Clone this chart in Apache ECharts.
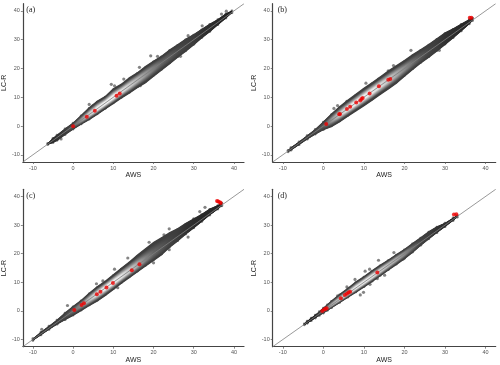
<!DOCTYPE html>
<html>
<head>
<meta charset="utf-8">
<style>
    html, body { margin: 0; padding: 0; background: #fff; }
    #main { width: 500px; height: 365px; filter: blur(0.4px); }
</style>
<script src="https://cdn.jsdelivr.net/npm/echarts@6/dist/echarts.min.js"></script>
</head>
<body>
<div id="main"></div>
<script>
var tickValues = [-10, 0, 10, 20, 30, 40];
var panelNames = ['(a)', '(b)', '(c)', '(d)'];
var identityEnds = [-12.5, 42.5];

// band: AWS knot, top and bottom of the cloud relative to the 1:1 line, grey at the middle
var bandA_x = [-6.3, -5, -4, -2, 0, 2, 4, 6, 8, 10, 12, 14, 16, 18, 20, 22, 24, 26, 28, 30, 32, 34, 36, 38, 39.5];
var bandA_up = [0.3, 0.9, 1.0, 1.2, 1.2, 1.9, 2.6, 2.9, 2.5, 3.2, 2.8, 3.0, 2.8, 2.9, 2.8, 2.5, 2.7, 2.5, 2.4, 2.0, 1.8, 1.6, 1.2, 1.2, 0.6];
var bandA_lo = [-0.2, -0.9, -1.2, -1.2, -1.3, -1.6, -2.0, -2.2, -2.3, -2.4, -2.5, -2.8, -2.9, -3.2, -3.0, -2.8, -2.6, -2.4, -2.3, -2.0, -1.6, -1.4, -1.0, -0.6, -0.2];
var bandA_core = [40, 45, 50, 60, 90, 150, 205, 235, 240, 240, 225, 205, 180, 150, 125, 100, 90, 75, 65, 60, 50, 45, 40, 35, 30];

var bandB_x = [-8.7, -8, -6, -4, -2, 0, 2, 4, 6, 8, 10, 12, 14, 16, 18, 20, 22, 24, 26, 28, 30, 32, 34, 36, 36.8];
var bandB_up = [0.3, 0.6, 0.6, 0.8, 1.0, 1.7, 2.4, 3.0, 3.2, 3.3, 3.4, 3.3, 3.3, 3.4, 3.2, 3.0, 3.0, 2.8, 2.6, 2.6, 2.6, 2.0, 1.6, 1.2, 0.8];
var bandB_lo = [-0.3, -0.5, -0.6, -0.7, -1.0, -1.5, -2.4, -2.8, -2.9, -3.0, -3.2, -3.3, -3.3, -3.4, -3.4, -3.0, -2.6, -2.4, -2.4, -2.2, -1.9, -1.6, -1.2, -0.6, -0.2];
var bandB_core = [50, 50, 50, 60, 70, 90, 150, 200, 230, 240, 240, 235, 220, 200, 170, 140, 110, 85, 70, 60, 50, 45, 40, 40, 40];

var bandC_x = [-10, -8, -6, -4, -2, 0, 2, 4, 6, 8, 10, 12, 14, 16, 18, 20, 22, 24, 26, 28, 30, 32, 34, 36, 37];
var bandC_up = [0.4, 0.7, 0.8, 1.0, 1.5, 1.8, 1.9, 2.4, 2.7, 2.6, 2.9, 3.2, 3.4, 3.8, 4.0, 4.2, 3.8, 3.6, 3.0, 2.8, 2.4, 2.0, 1.8, 1.0, 0.8];
var bandC_lo = [-0.4, -0.5, -0.6, -0.8, -1.3, -1.8, -2.1, -2.4, -2.8, -2.9, -2.8, -2.6, -2.6, -2.6, -2.6, -2.6, -2.6, -2.0, -1.8, -1.4, -1.2, -0.9, -0.6, -0.5, -0.3];
var bandC_core = [50, 50, 55, 60, 75, 100, 140, 190, 225, 240, 240, 225, 200, 170, 130, 100, 85, 70, 60, 50, 45, 40, 40, 35, 35];

var bandD_x = [-4.7, -4, -3, -2, -1, 0, 1, 2, 4, 6, 8, 10, 12, 14, 16, 18, 20, 22, 24, 26, 28, 30, 32, 33];
var bandD_up = [0.2, 0.5, 0.6, 0.7, 0.9, 1.2, 1.4, 1.7, 2.0, 2.1, 2.4, 2.2, 2.3, 2.2, 2.0, 1.9, 1.7, 1.8, 1.8, 1.9, 1.6, 0.8, 0.6, 0.4];
var bandD_lo = [-0.2, -0.4, -0.5, -0.6, -0.7, -0.9, -1.0, -1.1, -1.3, -1.5, -1.7, -1.9, -2.0, -2.0, -2.0, -2.0, -2.0, -1.8, -1.3, -1.0, -0.8, -0.7, -0.5, -0.3];
var bandD_core = [30, 30, 30, 40, 60, 100, 140, 170, 200, 220, 235, 235, 230, 210, 190, 170, 140, 100, 70, 60, 50, 45, 40, 40];

// loose points outside the cloud
var strayA = [[36.9, 38.9], [38.1, 39.9], [32.1, 34.8], [28.6, 31.4], [19.3, 24.4], [21, 24.2], [12.6, 16.3], [9.5, 14.5], [10.3, 14], [4, 7.5], [4.9, 7], [16.5, 20.4], [16.7, 14], [-3, -4.5], [26.7, 24.2]];
var strayB = [[21.6, 26.3], [28.6, 26.3], [10.5, 14.9], [16, 19.2], [2.6, 6.1], [3.5, 7.1], [5.8, 8.6], [13.6, 16.3], [17.3, 21], [30.5, 30.9], [31.3, 32.3]];
var strayC = [[32.8, 36.2], [31.5, 34.7], [30, 32.2], [23.9, 28.7], [18.9, 24], [10.3, 14.6], [5.8, 9.5], [7.4, 10.5], [11.1, 8.1], [20, 16.8], [23.9, 21.4], [28.6, 25.8], [-1.4, 1.9], [-7.8, -6.4], [10.7, 8.8], [13.6, 18.5], [22.6, 26.6]];
var strayD = [[13.6, 17.7], [15.1, 12.5], [13.3, 11.3], [10.3, 13.9], [11.4, 14.6], [5.8, 8.4], [7.8, 11], [17.4, 20.4], [19.6, 18.1], [3.5, 5.3], [9.1, 5.6], [9.9, 6.5], [11.5, 9.3], [1.6, 2.4]];

// red highlighted points
var redA = [[0, -0.1], [3.4, 3.2], [5.4, 5.3], [10.8, 10.5], [11.6, 11.3]];
var redB = [[0.7, 0.7], [3.9, 4.1], [4.1, 4.2], [5.8, 5.9], [6.6, 6.7], [8.1, 8.2], [9.1, 8.9], [9.4, 9.4], [9.7, 9.7], [11.4, 11.3], [13.7, 13.8], [16, 16.1], [16.5, 16.3], [36.1, 37.6], [36.5, 37.6]];
var redC = [[0.3, 0.3], [2.1, 2.1], [2.7, 2.7], [5.9, 5.8], [6.8, 6.7], [8.3, 8.2], [9.9, 9.8], [14.6, 14.2], [16.5, 16.3], [35.8, 38.4], [36.1, 38.2], [36.5, 38], [36.7, 37.7]];
var redD = [[-0.3, 0], [0.2, 0.5], [0.5, 0.7], [0.8, 0.9], [4.3, 4.4], [5.3, 5.6], [5.8, 6], [6.2, 6.4], [6.6, 6.7], [13.3, 13.4], [32.2, 33.7], [32.8, 33.8]];

var bandX = [bandA_x, bandB_x, bandC_x, bandD_x];
var bandUp = [bandA_up, bandB_up, bandC_up, bandD_up];
var bandLo = [bandA_lo, bandB_lo, bandC_lo, bandD_lo];
var bandCore = [bandA_core, bandB_core, bandC_core, bandD_core];
var strays = [strayA, strayB, strayC, strayD];
var reds = [redA, redB, redC, redD];

var frames = [
    { left: 21.3, top: 3.7, width: 222.7, height: 158.3 },
    { left: 272.7, top: 3.7, width: 223, height: 158.3 },
    { left: 21.3, top: 189.3, width: 222.7, height: 157.4 },
    { left: 272.7, top: 189.3, width: 223, height: 157.4 }
];

var levels = 14;

function grey(v) {
    var g = Math.round(v);
    return 'rgb(' + g + ',' + g + ',' + g + ')';
}

// grey of a nested level: dark shell near the rim, then up to the knot's middle value
function levelGrey(core, t) {
    var edge = Math.min(core, 62);
    if (t < 0.2) {
        return edge;
    }
    return edge + (core - edge) * Math.min((t - 0.2) / 0.55, 1);
}

function levelRows() {
    var rows = [];
    for (var k = 0; k < levels; k++) {
        rows.push([k, k]);
    }
    return rows;
}

function rimPoints(p) {
    var pts = [];
    for (var i = 0; i < bandX[p].length; i++) {
        pts.push([bandX[p][i], bandX[p][i] + 0.8 * bandUp[p][i]]);
        pts.push([bandX[p][i], bandX[p][i] + 0.8 * bandLo[p][i]]);
    }
    return pts;
}

function makeRenderBand(p) {
    return function(params, api) {
        var k = api.value(0);
        var f = 1 - k / levels;
        var xs = bandX[p], n = xs.length;
        var top = [], bottom = [], stops = [];
        for (var i = 0; i < n; i++) {
            top.push(api.coord([xs[i], xs[i] + f * bandUp[p][i]]));
            bottom.unshift(api.coord([xs[i], xs[i] + f * bandLo[p][i]]));
            stops.push({ offset: (xs[i] - xs[0]) / (xs[n - 1] - xs[0]), color: grey(levelGrey(bandCore[p][i], k / levels)) });
        }
        var fill = new echarts.graphic.LinearGradient(top[0][0], 0, top[n - 1][0], 0, stops, true);
        return {
            type: 'polygon',
            shape: { points: top.concat(bottom) },
            style: { fill: fill }
        };
    };
}

var grids = [], xAxes = [], yAxes = [], series = [], titles = [];

for (var p = 0; p < 4; p++) {
    var fr = frames[p];
    grids.push({ left: fr.left, top: fr.top, width: fr.width, height: fr.height });

    xAxes.push({
        type: 'value', gridIndex: p, min: -12.5, max: 42.5,
        name: 'AWS', nameLocation: 'middle', nameGap: 8,
        nameTextStyle: { fontFamily: 'Liberation Sans', fontSize: 7, color: '#222' },
        splitLine: { show: false },
        axisLine: { onZero: false, lineStyle: { color: '#444', width: 1.2 } },
        axisTick: { length: 2, lineStyle: { color: '#555', width: 0.7 }, customValues: tickValues },
        axisLabel: { fontFamily: 'Liberation Sans', fontSize: 5.5, color: '#555', margin: 3, customValues: tickValues }
    });
    yAxes.push({
        type: 'value', gridIndex: p, min: -12.5, max: 42.5,
        name: 'LC-R', nameLocation: 'middle', nameGap: 9.5, nameRotate: 90,
        nameTextStyle: { fontFamily: 'Liberation Sans', fontSize: 7, color: '#222' },
        splitLine: { show: false },
        axisLine: { onZero: false, lineStyle: { color: '#444', width: 1.2 } },
        axisTick: { length: 2, lineStyle: { color: '#555', width: 0.7 }, customValues: tickValues },
        axisLabel: { fontFamily: 'Liberation Sans', fontSize: 5.5, color: '#555', margin: 3, customValues: tickValues }
    });

    series.push({
        type: 'scatter', xAxisIndex: p, yAxisIndex: p, z: 2, silent: true,
        symbolSize: 3.2, itemStyle: { color: '#6e6e6e', opacity: 0.85 },
        data: strays[p]
    });
    series.push({
        type: 'scatter', xAxisIndex: p, yAxisIndex: p, z: 2, silent: true,
        symbolSize: 2.8, itemStyle: { color: '#555' },
        data: rimPoints(p)
    });
    series.push({
        type: 'custom', xAxisIndex: p, yAxisIndex: p, z: 3, silent: true,
        renderItem: makeRenderBand(p),
        data: levelRows()
    });
    series.push({
        type: 'line', xAxisIndex: p, yAxisIndex: p, z: 4, silent: true,
        symbol: 'none', lineStyle: { color: '#7f7f7f', width: 0.8 },
        data: [[identityEnds[0], identityEnds[0]], [identityEnds[1], identityEnds[1]]]
    });
    series.push({
        type: 'scatter', xAxisIndex: p, yAxisIndex: p, z: 5, silent: true,
        symbolSize: 4, itemStyle: { color: '#ee0000' },
        data: reds[p]
    });
    titles.push({
        text: panelNames[p], left: fr.left + 5, top: fr.top + 2.5, padding: 0,
        textStyle: { fontFamily: 'Liberation Serif', fontSize: 8, fontWeight: 'normal', color: '#222' }
    });
}

var chart = echarts.init(document.getElementById('main'), null, { renderer: 'canvas' });
chart.setOption({
    animation: false,
    backgroundColor: '#fff',
    title: titles,
    grid: grids,
    xAxis: xAxes,
    yAxis: yAxes,
    series: series
});
</script>
</body>
</html>
